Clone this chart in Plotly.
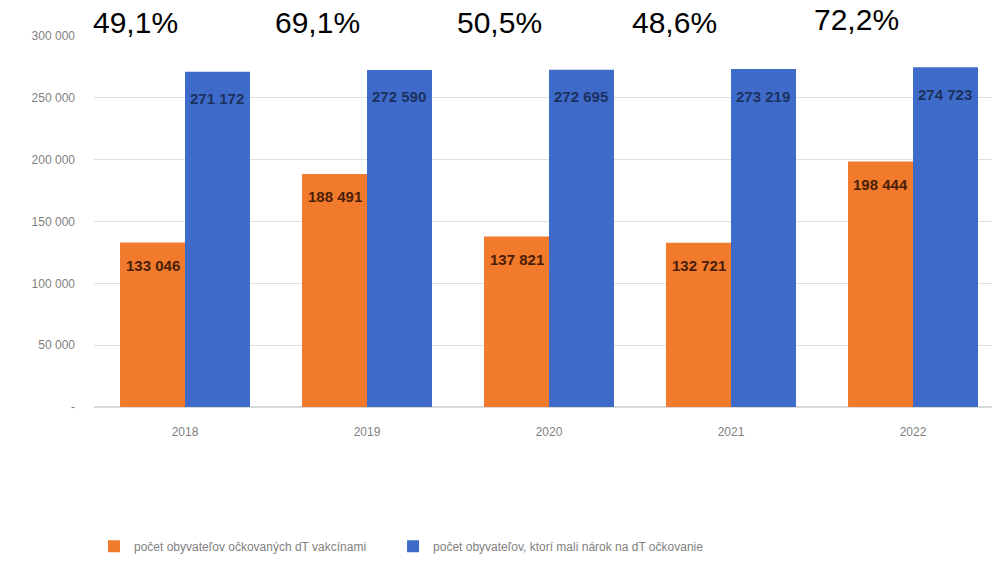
import plotly.graph_objects as go

years = ["2018", "2019", "2020", "2021", "2022"]
vaccinated = [133046, 188491, 137821, 132721, 198444]
eligible = [271172, 272590, 272695, 273219, 274723]
y_ticks = [0, 50000, 100000, 150000, 200000, 250000, 300000]

name_vacc = "počet obyvateľov očkovaných dT vakcínami"
name_elig = "počet obyvateľov, ktorí mali nárok na dT očkovanie"

def fmt(v):
    return f"{v:,}".replace(",", " ")

x = list(range(len(years)))

fig = go.Figure()
fig.add_trace(go.Bar(x=x, y=vaccinated, name=name_vacc, legend="legend",
                     marker=dict(color="#f27a2c", line=dict(width=0))))
fig.add_trace(go.Bar(x=x, y=eligible, name=name_elig, legend="legend2",
                     marker=dict(color="#3e6bc9", line=dict(width=0))))

off = 0.178
lab_font = "Liberation Sans Narrow, Liberation Sans"
for i in x:
    fig.add_annotation(x=i - off, y=vaccinated[i], text=fmt(vaccinated[i]), showarrow=False,
                       yanchor="middle", yshift=-23,
                       font=dict(family=lab_font, size=15, color="#4a2008", weight="bold"))
    fig.add_annotation(x=i + off, y=eligible[i], text=fmt(eligible[i]), showarrow=False,
                       yanchor="middle", yshift=-27,
                       font=dict(family=lab_font, size=15, color="#1c3160", weight="bold"))
    pct = vaccinated[i] / eligible[i] * 100
    pct_txt = f"{pct:.1f}%".replace(".", ",")
    dx = -0.27 if i < 3 else -0.31
    ys = 14 if i < 4 else 17
    fig.add_annotation(x=i + dx, y=300000, text=pct_txt, showarrow=False,
                       yanchor="middle", yshift=ys,
                       font=dict(family="Liberation Sans", size=30, color="#000000"))

leg_font = dict(family=lab_font, size=12, color="#7f7f7f")
fig.update_layout(
    width=992, height=571,
    margin=dict(l=94, r=0, t=36, b=164),
    plot_bgcolor="white", paper_bgcolor="white",
    barmode="group", bargap=0.286, bargroupgap=0,
    showlegend=True,
    legend=dict(orientation="h", x=0.0, xanchor="left", y=-0.375, yanchor="middle",
                font=leg_font, itemwidth=30),
    legend2=dict(orientation="h", x=0.333, xanchor="left", y=-0.375, yanchor="middle",
                 font=leg_font, itemwidth=30),
    xaxis=dict(range=[-0.5, 4.434], tickvals=x, ticktext=years, showgrid=False,
               tickfont=dict(family=lab_font, size=12, color="#7f7f7f"),
               ticks="", showline=False, zeroline=False, ticklabelstandoff=16),
    yaxis=dict(range=[0, 300000], tickvals=y_ticks,
               ticktext=[("-" if v == 0 else fmt(v)) for v in y_ticks],
               showgrid=True, gridcolor="#e0e0e0", gridwidth=1,
               zeroline=True, zerolinecolor="#d9d9d9",
               tickfont=dict(family=lab_font, size=12, color="#7f7f7f"),
               ticks="", ticklabelstandoff=18),
)

fig.write_html("out.html", config={"displayModeBar": False},
               post_script="document.body.style.margin='0';")
